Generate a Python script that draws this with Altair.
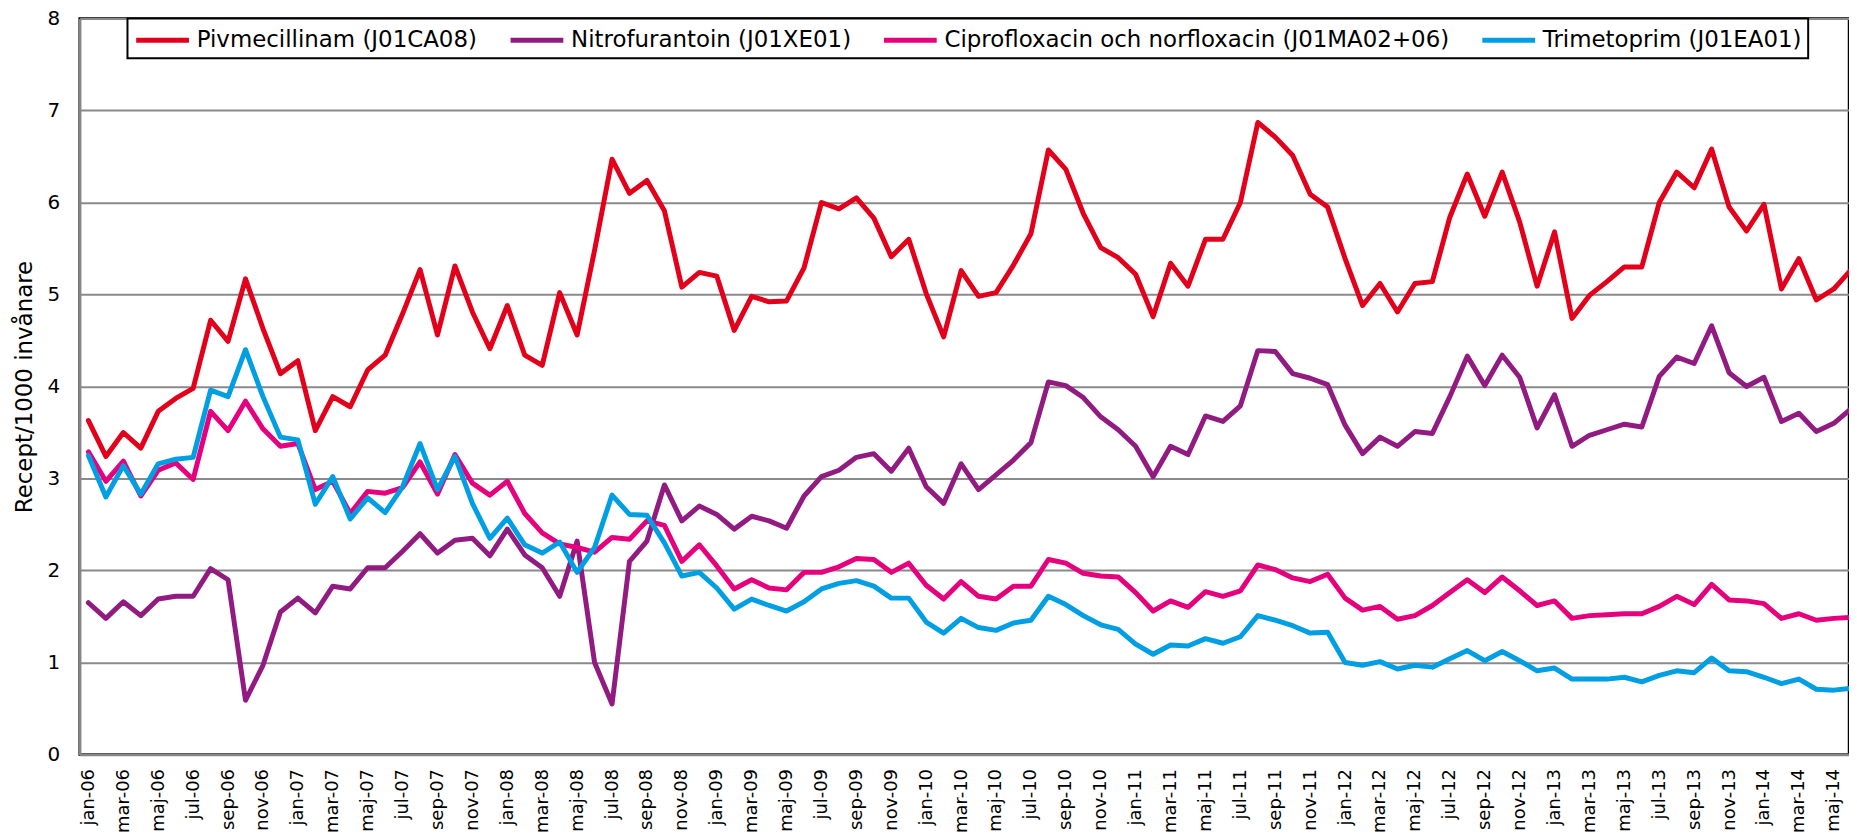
import json
import pandas as pd
import altair as alt

# ---- data (monthly jan-06 .. jun-14) ----
months = ["jan", "feb", "mar", "apr", "maj", "jun", "jul", "aug", "sep", "okt", "nov", "dec"]
month_labels = [f"{m}-{y:02d}" for y in range(6, 15) for m in months]

series_names = [
    "Pivmecillinam (J01CA08)",
    "Nitrofurantoin (J01XE01)",
    "Ciprofloxacin och norfloxacin (J01MA02+06)",
    "Trimetoprim (J01EA01)",
]
series_colors = ["#E2001A", "#921B81", "#E6007E", "#009FE3"]

pivmecillinam = [
    3.63, 3.24, 3.50, 3.33, 3.73, 3.87, 3.98, 4.72, 4.49, 5.17, 4.63, 4.14,
    4.28, 3.52, 3.89, 3.78, 4.18, 4.34, 4.79, 5.27, 4.56, 5.31, 4.81, 4.41,
    4.88, 4.34, 4.23, 5.02, 4.56, 5.48, 6.47, 6.10, 6.24, 5.91, 5.08, 5.24,
    5.20, 4.61, 4.98, 4.92, 4.93, 5.29, 6.00, 5.93, 6.05, 5.83, 5.41, 5.60,
    5.01, 4.54, 5.26, 4.98, 5.02, 5.32, 5.66, 6.57, 6.36, 5.88, 5.51, 5.40,
    5.22, 4.76, 5.34, 5.09, 5.60, 5.60, 6.00, 6.87, 6.71, 6.51, 6.09, 5.95,
    5.39, 4.88, 5.12, 4.81, 5.12, 5.14, 5.84, 6.31, 5.85, 6.33, 5.79, 5.09,
    5.68, 4.74, 4.99, 5.14, 5.30, 5.30, 6.00, 6.33, 6.16, 6.58, 5.95, 5.69,
    5.98, 5.06, 5.39, 4.94, 5.06, 5.27,
]
nitrofurantoin = [
    1.65, 1.48, 1.66, 1.51, 1.69, 1.72, 1.72, 2.02, 1.90, 0.59, 0.97, 1.55,
    1.70, 1.54, 1.83, 1.80, 2.03, 2.03, 2.21, 2.40, 2.19, 2.33, 2.35, 2.16,
    2.45, 2.17, 2.03, 1.72, 2.32, 1.00, 0.55, 2.10, 2.32, 2.93, 2.54, 2.70,
    2.61, 2.45, 2.59, 2.54, 2.46, 2.81, 3.02, 3.09, 3.23, 3.27, 3.08, 3.33,
    2.91, 2.73, 3.16, 2.88, 3.04, 3.20, 3.39, 4.05, 4.01, 3.88, 3.67, 3.53,
    3.35, 3.02, 3.35, 3.26, 3.68, 3.62, 3.79, 4.39, 4.38, 4.14, 4.09, 4.02,
    3.58, 3.27, 3.45, 3.35, 3.51, 3.49, 3.89, 4.33, 4.01, 4.34, 4.10, 3.55,
    3.91, 3.35, 3.47, 3.53, 3.59, 3.56, 4.11, 4.32, 4.25, 4.66, 4.15, 4.00,
    4.10, 3.62, 3.71, 3.51, 3.60, 3.76,
]
ciprofloxacin = [
    3.29, 2.97, 3.19, 2.81, 3.09, 3.17, 2.99, 3.73, 3.52, 3.84, 3.54, 3.35,
    3.38, 2.88, 2.97, 2.62, 2.86, 2.84, 2.90, 3.18, 2.83, 3.26, 2.95, 2.82,
    2.97, 2.62, 2.41, 2.29, 2.25, 2.20, 2.36, 2.34, 2.54, 2.49, 2.10, 2.28,
    2.05, 1.80, 1.90, 1.81, 1.79, 1.98, 1.98, 2.04, 2.13, 2.12, 1.98, 2.08,
    1.84, 1.69, 1.88, 1.72, 1.69, 1.83, 1.83, 2.12, 2.08, 1.97, 1.94, 1.93,
    1.76, 1.56, 1.67, 1.60, 1.77, 1.72, 1.78, 2.06, 2.01, 1.92, 1.88, 1.96,
    1.70, 1.57, 1.61, 1.47, 1.51, 1.62, 1.76, 1.90, 1.76, 1.93, 1.78, 1.62,
    1.67, 1.48, 1.51, 1.52, 1.53, 1.53, 1.61, 1.72, 1.63, 1.85, 1.68, 1.67,
    1.64, 1.48, 1.53, 1.46, 1.48, 1.49,
]
trimetoprim = [
    3.25, 2.80, 3.14, 2.83, 3.16, 3.21, 3.23, 3.96, 3.89, 4.40, 3.89, 3.45,
    3.42, 2.72, 3.02, 2.56, 2.79, 2.63, 2.91, 3.38, 2.88, 3.24, 2.73, 2.35,
    2.57, 2.28, 2.19, 2.31, 1.98, 2.25, 2.82, 2.61, 2.60, 2.30, 1.94, 1.98,
    1.81, 1.58, 1.69, 1.62, 1.56, 1.66, 1.80, 1.86, 1.89, 1.83, 1.70, 1.70,
    1.44, 1.32, 1.48, 1.38, 1.35, 1.43, 1.46, 1.72, 1.63, 1.51, 1.41, 1.36,
    1.20, 1.09, 1.19, 1.18, 1.26, 1.21, 1.28, 1.51, 1.46, 1.40, 1.32, 1.33,
    1.00, 0.97, 1.01, 0.93, 0.97, 0.95, 1.04, 1.13, 1.02, 1.12, 1.02, 0.91,
    0.94, 0.82, 0.82, 0.82, 0.84, 0.79, 0.86, 0.91, 0.89, 1.05, 0.91, 0.90,
    0.84, 0.77, 0.82, 0.71, 0.70, 0.72,
]

y_ticks = [0, 1, 2, 3, 4, 5, 6, 7, 8]
x_ticks = list(range(0, 101, 2))

all_values = [pivmecillinam, nitrofurantoin, ciprofloxacin, trimetoprim]
rows = []
for name, vals in zip(series_names, all_values):
    for i, v in enumerate(vals):
        rows.append({"serie": name, "idx": i, "manad": month_labels[i], "varde": v})
df = pd.DataFrame(rows)

FONT = "DejaVu Sans"
label_expr = json.dumps(month_labels) + "[datum.value]"

x_enc = alt.X(
    "idx:Q",
    scale=alt.Scale(domain=[-0.5, 100.87], nice=False, zero=False),
    axis=alt.Axis(
        values=x_ticks, labelExpr=label_expr, labelAngle=270, labelAlign="right",
        labelBaseline="middle", labelFontSize=18, labelPadding=14, labelColor="black",
        labelOverlap=False, labelFlush=False, ticks=False, grid=False, title=None,
        domainColor="#868686", domainWidth=2.5,
    ),
)
y_enc = alt.Y(
    "varde:Q",
    scale=alt.Scale(domain=[0, 8], nice=False, zero=True),
    axis=alt.Axis(
        values=y_ticks, labelFontSize=20, labelPadding=20, labelColor="black",
        ticks=False, grid=True, gridColor="#8a8a8a", gridWidth=2,
        domainColor="#868686", domainWidth=2.5,
        title="Recept/1000 invånare", titleFontSize=23, titleFontWeight="normal",
        titleColor="black", titlePadding=11,
    ),
)
color_enc = alt.Color(
    "serie:N",
    scale=alt.Scale(domain=series_names, range=series_colors),
    legend=alt.Legend(
        orient="none", legendX=48, legendY=0, direction="horizontal", columns=4,
        title=None, symbolType="M-1,0H3", symbolSize=702, symbolStrokeWidth=5,
        labelFontSize=23, labelOffset=31.5, columnPadding=22, padding=6,
        strokeColor="black", fillColor="white", labelLimit=0, labelColor="black",
    ),
)

layers = []
for name in series_names:
    layers.append(
        alt.Chart(df)
        .transform_filter(alt.datum.serie == name)
        .mark_line(strokeWidth=5, strokeJoin="round", strokeCap="round", clip=True)
        .encode(x=x_enc, y=y_enc, color=color_enc, order="idx:Q")
    )

chart = (
    alt.layer(*layers)
    .properties(
        width=1777, height=739.3,
        autosize=alt.AutoSizeParams(type="none"),
        padding={"left": 72, "top": 8.7, "right": 0, "bottom": 80},
    )
    .configure(font=FONT)
    .configure_view(stroke="black", strokeWidth=2.5)
    .configure_legend(strokeWidth=2)
)

chart.save("out.html", embed_options={"renderer": "svg", "actions": False})
